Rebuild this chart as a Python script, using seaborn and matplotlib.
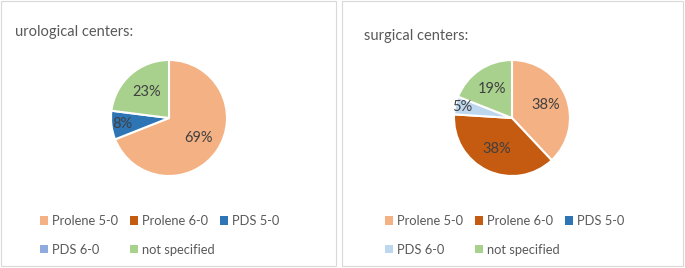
import matplotlib.pyplot as plt
import numpy as np
import seaborn as sns
from matplotlib.patches import Patch, Rectangle

sns.set_style("white")
plt.rcParams['font.family'] = ['Lato', 'DejaVu Sans']

# data
categories = ["Prolene 5-0", "Prolene 6-0", "PDS 5-0", "PDS 6-0", "not specified"]
urological = [69, 0, 8, 0, 23]
surgical = [38, 38, 0, 5, 19]
titles = ["urological centers:", "surgical centers:"]

colors_left = ["#F4B183", "#C55A11", "#2E75B6", "#8FAADC", "#A9D18E"]
colors_right = ["#F4B183", "#C55A11", "#2E75B6", "#BDD7EE", "#A9D18E"]

W, H = 685, 268
fig = plt.figure(figsize=(W / 100, H / 100), dpi=100)


def fx(px):
    return px / W


def fy(py):
    return 1 - py / H


def panel(x0, x1, title, title_x, title_y, values, colors, cx, cy, leg_x, label_dist):
    fig.patches.append(Rectangle((fx(x0), fy(266)), fx(x1 - x0), (265) / H,
                                 transform=fig.transFigure, fill=False,
                                 edgecolor="#D9D9D9", linewidth=0.8))
    fig.text(fx(title_x), fy(title_y), title, fontsize=10.5, color="#595959",
             va="center", ha="left")

    r = 58
    half = 62
    ax = fig.add_axes([fx(cx - half), fy(cy + half), 2 * half / W, 2 * half / H])
    vals = [v for v in values if v > 0]
    cols = [c for v, c in zip(values, colors) if v > 0]
    wedges, _ = ax.pie(vals, colors=cols, startangle=90, counterclock=False,
                       radius=1, wedgeprops=dict(edgecolor="white", linewidth=1.5))
    lim = half / r
    ax.set_xlim(-lim, lim)
    ax.set_ylim(-lim, lim)
    ax.set_aspect("auto")
    ax.axis("off")
    for w, v, d in zip(wedges, vals, label_dist):
        ang = np.deg2rad((w.theta1 + w.theta2) / 2)
        ax.text(d * np.cos(ang), d * np.sin(ang), f"{v}%", ha="center", va="center",
                fontsize=10.5, color="#404040")

    # legend: 3 equal-width columns, filled row by row
    handles = [Patch(facecolor=c, edgecolor="none") for c in colors]
    for j in range(3):
        idx = [i for i in range(len(categories)) if i % 3 == j]
        fig.legend([handles[i] for i in idx], [categories[i] for i in idx],
                   loc="upper left", bbox_to_anchor=(fx(leg_x + j * 90), fy(215)),
                   frameon=False, fontsize=9.3, labelcolor="#595959",
                   handlelength=0.6, handleheight=0.6, handletextpad=0.35,
                   labelspacing=1.3, borderpad=0, borderaxespad=0)


panel(1, 336, titles[0], 15, 32, urological, colors_left, 169, 118, 40, [0.62, 0.82, 0.59])
panel(342, 683, titles[1], 364, 36, surgical, colors_right, 512, 118, 385, [0.62, 0.6, 0.88, 0.6])

fig.savefig("out.png", dpi=100)
